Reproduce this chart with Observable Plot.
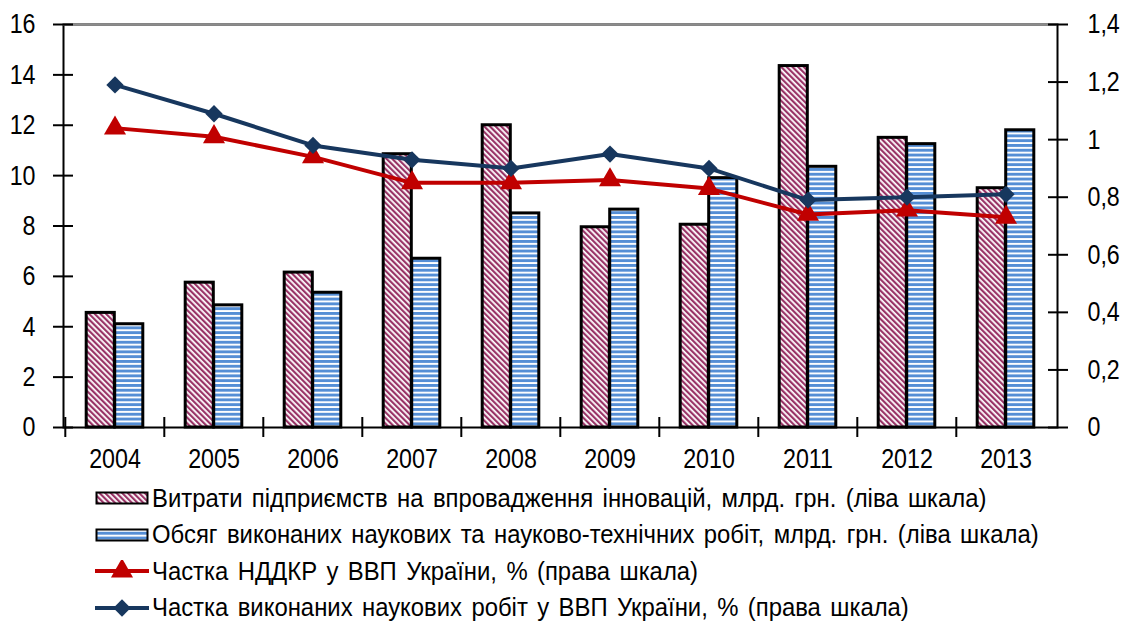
<!DOCTYPE html>
<html><head><meta charset="utf-8">
<script src="https://cdn.jsdelivr.net/npm/d3@7"></script>
<script src="https://cdn.jsdelivr.net/npm/@observablehq/plot@0.6"></script>
<style>
body{margin:0;background:#fff;font-family:"Liberation Sans",Arial,sans-serif;}
#legend{margin-left:95px;}
.row{display:flex;align-items:center;height:36.5px;font-size:26px;word-spacing:3px;color:#000;white-space:nowrap}
.row svg{margin-right:3px;flex:none}
.row span{display:inline-block;transform:scaleX(0.918);transform-origin:left center}
</style></head><body>
<svg width="0" height="0" style="position:absolute">
<defs>
<pattern id="pat-diag" patternUnits="userSpaceOnUse" width="4" height="4" patternTransform="rotate(-45)">
<rect width="4" height="4" fill="#fff"/><rect width="2.2" height="4" fill="#993366"/>
</pattern>
<pattern id="pat-horiz" patternUnits="userSpaceOnUse" width="6" height="4.8">
<rect width="6" height="4.8" fill="#fff"/><rect width="6" height="2.9" fill="#558ED5"/>
</pattern>
</defs></svg>
<div id="chart"></div><div id="legend"></div>
<script>
const years = ["2004","2005","2006","2007","2008","2009","2010","2011","2012","2013"];
const innovationSpending = [4.55,5.75,6.15,10.85,12.0,7.95,8.05,14.35,11.5,9.5];
const scienceWorks = [4.1,4.85,5.35,6.7,8.5,8.65,9.9,10.35,11.25,11.8];
const rndShare = [1.04,1.01,0.94,0.85,0.85,0.86,0.83,0.74,0.755,0.73];
const worksShare = [1.19,1.09,0.98,0.93,0.90,0.95,0.90,0.79,0.80,0.81];
const leftTicks = [0,2,4,6,8,10,12,14,16];
const rightTicks = [0,0.2,0.4,0.6,0.8,1.0,1.2,1.4];
const seriesNames = [
  "Витрати підприємств на впровадження інновацій, млрд. грн. (ліва шкала)",
  "Обсяг виконаних наукових та науково-технічних робіт, млрд. грн. (ліва шкала)",
  "Частка НДДКР у ВВП України, % (права шкала)",
  "Частка виконаних наукових робіт у ВВП України, % (права шкала)"
];

const leftMax = 16, rightMax = 1.4, k = leftMax / rightMax;
const W = 1125, H = 480, mL = 63, mR = 68, mT = 24, mB = 53;
const step = (W - mL - mR) / years.length;
const halfGroup = 28.5, outer = step / 2 - halfGroup;
const fmtR = v => String(Math.round(v / k * 10) / 10).replace(".", ",");

const redBars = years.map((y, i) => ({year: y, value: innovationSpending[i]}));
const blueBars = years.map((y, i) => ({year: y, value: scienceWorks[i]}));
const redLine = years.map((y, i) => ({year: y, value: rndShare[i] * k}));
const navyLine = years.map((y, i) => ({year: y, value: worksShare[i] * k}));

const font = '"Liberation Sans", Arial, sans-serif';
const chart = Plot.plot({
  width: W, height: H, marginLeft: mL, marginRight: mR, marginTop: mT, marginBottom: mB,
  style: {fontFamily: font, fontSize: "28px", color: "#000", background: "#fff"},
  x: {type: "band", domain: years, padding: 0, label: null},
  y: {domain: [0, leftMax], label: null},
  marks: [
    Plot.barY(redBars, {x: "year", y: "value", fill: "url(#pat-diag)", stroke: "#000", strokeWidth: 3, insetLeft: outer, insetRight: step / 2}),
    Plot.barY(blueBars, {x: "year", y: "value", fill: "url(#pat-horiz)", stroke: "#000", strokeWidth: 3, insetLeft: step / 2, insetRight: outer}),
    Plot.frame({stroke: "#000", strokeWidth: 2}),
    Plot.ruleY([leftMax], {stroke: "#8c8c8c", strokeWidth: 2}),
    Plot.axisY({ticks: leftTicks, tickSize: 10, tickPadding: 18, strokeWidth: 2, label: null, fontSize: 28}),
    Plot.axisY({ticks: leftTicks, tickSize: 10, text: null, dx: 10, strokeWidth: 2}),
    Plot.axisY({anchor: "right", ticks: rightTicks.map(v => v * k), tickFormat: fmtR, tickSize: 10, tickPadding: 20, strokeWidth: 2, label: null, fontSize: 28}),
    Plot.axisY({anchor: "right", ticks: rightTicks.map(v => v * k), text: null, tickSize: 10, dx: -10, strokeWidth: 2}),
    Plot.axisX({tickSize: 0, tickPadding: 21, label: null, fontSize: 28}),
    Plot.axisX({text: null, tickSize: 10, dx: -step / 2, strokeWidth: 2}),
    Plot.axisX({text: null, tickSize: 10, dx: -step / 2, dy: -10, strokeWidth: 2}),
    Plot.line(redLine, {x: "year", y: "value", stroke: "#C00000", strokeWidth: 4}),
    Plot.dot(redLine, {x: "year", y: "value", symbol: "triangle", r: 8.2, fill: "#C00000", stroke: "none"}),
    Plot.line(navyLine, {x: "year", y: "value", stroke: "#17375E", strokeWidth: 4}),
    Plot.dot(navyLine, {x: "year", y: "value", symbol: "diamond2", r: 7.8, fill: "#17375E", stroke: "none"})
  ]
});
document.getElementById("chart").appendChild(chart);
// condense axis labels horizontally (narrow digits as in the reference)
chart.querySelectorAll("text").forEach(t => {
  const tr = t.getAttribute("transform") || "";
  t.setAttribute("transform", tr + " scale(0.83,1)");
});

const swatches = [
  `<svg width="54" height="16"><rect x="1.5" y="2.5" width="51" height="11" fill="url(#pat-diag)" stroke="#000" stroke-width="2"/></svg>`,
  `<svg width="54" height="16"><rect x="1.5" y="2.5" width="51" height="11" fill="url(#pat-horiz)" stroke="#000" stroke-width="2"/></svg>`,
  `<svg width="54" height="22"><line x1="0" x2="54" y1="11" y2="11" stroke="#C00000" stroke-width="4"/><path d="${d3.symbol(d3.symbolTriangle, Math.PI*8.2*8.2)()}" transform="translate(27,11)" fill="#C00000"/></svg>`,
  `<svg width="54" height="22"><line x1="0" x2="54" y1="11" y2="11" stroke="#17375E" stroke-width="4"/><path d="${d3.symbol(d3.symbolDiamond2, Math.PI*7.8*7.8)()}" transform="translate(27,11)" fill="#17375E"/></svg>`
];
document.getElementById("legend").innerHTML = seriesNames.map((n, i) => `<div class="row">${swatches[i]}<span>${n}</span></div>`).join("");
</script>
</body></html>
